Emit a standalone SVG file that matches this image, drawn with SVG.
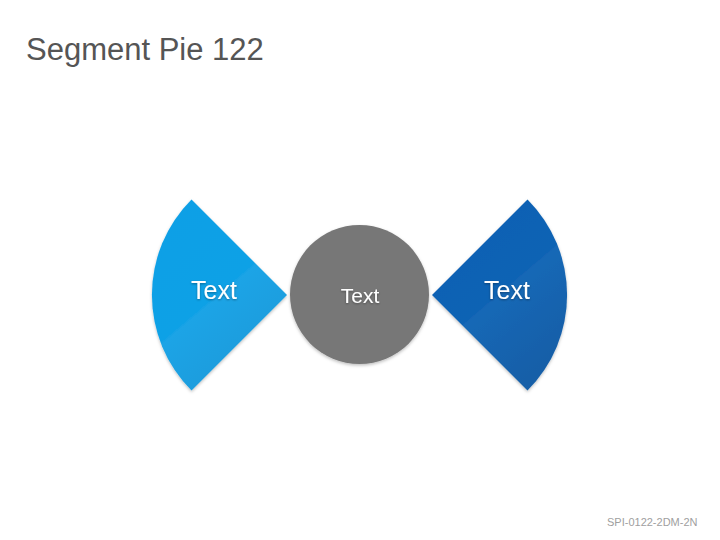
<svg xmlns="http://www.w3.org/2000/svg" width="720" height="540" viewBox="0 0 720 540">
<defs>
<linearGradient id="gl" x1="0" y1="0" x2="0.6" y2="1">
<stop offset="0" stop-color="#0d9fe6"/>
<stop offset="0.58" stop-color="#11a1e6"/>
<stop offset="0.59" stop-color="#1ba4e6"/>
<stop offset="1" stop-color="#1a9ada"/>
</linearGradient>
<linearGradient id="gr" x1="0" y1="0" x2="0.6" y2="1">
<stop offset="0" stop-color="#0a5fb4"/>
<stop offset="0.58" stop-color="#1063b4"/>
<stop offset="0.59" stop-color="#1868b6"/>
<stop offset="1" stop-color="#165fa8"/>
</linearGradient>
<filter id="ts" x="-20%" y="-20%" width="140%" height="140%">
<feDropShadow dx="0" dy="1" stdDeviation="1" flood-color="#000" flood-opacity="0.35"/>
</filter>
<filter id="sh" x="-10%" y="-10%" width="120%" height="120%">
<feDropShadow dx="0" dy="1.5" stdDeviation="1.5" flood-color="#000" flood-opacity="0.25"/>
</filter>
</defs>
<style>
.lbl{font-family:"Liberation Sans",Arial,sans-serif;fill:#fff;text-anchor:middle;}
</style>
<rect width="720" height="540" fill="#fff"/>
<text x="26" y="60" font-family="Liberation Sans, Arial, sans-serif" font-size="31" fill="#555">Segment Pie 122</text>
<text x="607" y="526" font-family="Liberation Sans, Arial, sans-serif" font-size="11" fill="#a0a0a0">SPI-0122-2DM-2N</text>
<g id="connectors"></g>
<g id="left-segment">
<path d="M287,295 L191.5,199.5 A135,135 0 0 0 191.5,390.5 Z" fill="url(#gl)" filter="url(#sh)"/>
<text class="lbl" x="214" y="299" font-size="25" filter="url(#ts)">Text</text>
</g>
<g id="center-circle">
<circle cx="359.5" cy="294.5" r="69.5" fill="#777" filter="url(#sh)"/>
<text class="lbl" x="360" y="303" font-size="21" filter="url(#ts)">Text</text>
</g>
<g id="right-segment">
<path d="M432,295 L527.5,199.5 A135,135 0 0 1 527.5,390.5 Z" fill="url(#gr)" filter="url(#sh)"/>
<text class="lbl" x="507" y="299" font-size="25" filter="url(#ts)">Text</text>
</g>
</svg>
